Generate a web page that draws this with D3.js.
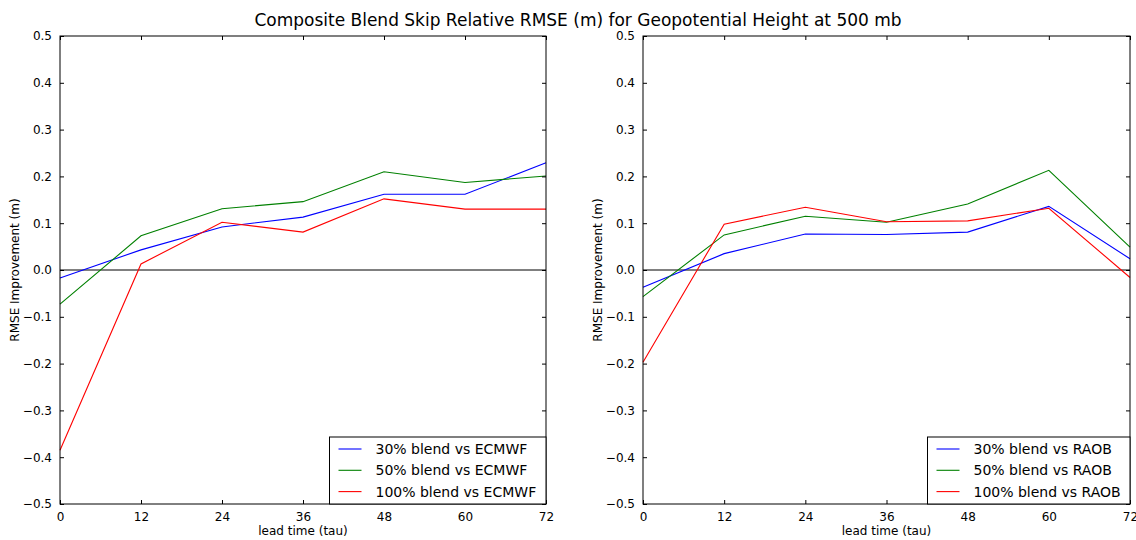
<!DOCTYPE html>
<html><head><meta charset="utf-8">
<script src="https://cdn.jsdelivr.net/npm/d3@7"></script>
<style>body{margin:0;background:#fff}svg{display:block}text{font-family:"DejaVu Sans",sans-serif;fill:#000}</style>
</head><body><svg id="c" width="1136" height="540"></svg>
<script>
const taus = [0, 12, 24, 36, 48, 60, 72];
const xTicks = [0, 12, 24, 36, 48, 60, 72];
const yTicks = [-0.5, -0.4, -0.3, -0.2, -0.1, 0.0, 0.1, 0.2, 0.3, 0.4, 0.5];
const seriesColors = ["#0000ff", "#008000", "#ff0000"];
const ecmwfNames = ["30% blend vs ECMWF", "50% blend vs ECMWF", "100% blend vs ECMWF"];
const raobNames = ["30% blend vs RAOB", "50% blend vs RAOB", "100% blend vs RAOB"];
const ecmwf30 = [-0.017, 0.043, 0.092, 0.113, 0.162, 0.162, 0.229];
const ecmwf50 = [-0.073, 0.073, 0.131, 0.146, 0.210, 0.187, 0.201];
const ecmwf100 = [-0.385, 0.013, 0.102, 0.081, 0.152, 0.130, 0.130];
const raob30 = [-0.037, 0.035, 0.077, 0.076, 0.081, 0.136, 0.024];
const raob50 = [-0.057, 0.075, 0.115, 0.102, 0.141, 0.213, 0.049];
const raob100 = [-0.197, 0.098, 0.134, 0.103, 0.105, 0.132, -0.016];

const svg = d3.select("#c");
svg.append("text").attr("x", 578).attr("y", 26).attr("text-anchor", "middle")
  .style("font-size", "17px").text("Composite Blend Skip Relative RMSE (m) for Geopotential Height at 500 mb");

function panel(x0, x1, names, data, legX) {
  const y0 = 36, y1 = 504;
  const x = d3.scaleLinear().domain([0, 72]).range([x0, x1]);
  const y = d3.scaleLinear().domain([-0.5, 0.5]).range([y1, y0]);
  const g = svg.append("g");
  g.append("line").attr("x1", x0).attr("x2", x1).attr("y1", y(0)).attr("y2", y(0))
    .attr("stroke", "#000").attr("stroke-width", 1);
  const line = d3.line().x((d, i) => x(taus[i])).y(d => y(d));
  data.forEach((s, k) => {
    g.append("path").attr("d", line(s)).attr("fill", "none")
      .attr("stroke", seriesColors[k]).attr("stroke-width", 1.1);
  });
  const ax = (gen, tx, ty) => {
    const a = g.append("g").attr("transform", `translate(${tx},${ty})`).call(gen);
    a.select(".domain").remove();
    a.selectAll("line").attr("stroke", "#000");
    a.selectAll("text").style("font-size", "12px").style("font-family", '"DejaVu Sans",sans-serif');
    return a;
  };
  ax(d3.axisBottom(x).tickValues(xTicks).tickSizeInner(-4).tickPadding(8).tickFormat(d3.format("d")), 0, y1);
  ax(d3.axisTop(x).tickValues(xTicks).tickSizeInner(-4).tickFormat(""), 0, y0);
  ax(d3.axisLeft(y).tickValues(yTicks).tickSizeInner(-4).tickPadding(8).tickFormat(d3.format(".1f")), x0, 0);
  ax(d3.axisRight(y).tickValues(yTicks).tickSizeInner(-4).tickFormat(""), x1, 0);
  g.append("rect").attr("x", x0).attr("y", y0).attr("width", x1 - x0).attr("height", y1 - y0)
    .attr("fill", "none").attr("stroke", "#000").attr("stroke-width", 1);
  g.append("text").attr("x", (x0 + x1) / 2).attr("y", 535).attr("text-anchor", "middle")
    .style("font-size", "12px").text("lead time (tau)");
  g.append("text").attr("transform", `translate(${x0 - 41},${(y0 + y1) / 2}) rotate(-90)`)
    .attr("text-anchor", "middle").style("font-size", "12px").text("RMSE Improvement (m)");
  const lg = g.append("g");
  lg.append("rect").attr("x", legX).attr("y", 437).attr("width", x1 - legX).attr("height", y1 - 437)
    .attr("fill", "#fff").attr("stroke", "#000").attr("stroke-width", 1);
  names.forEach((n, k) => {
    const yy = 449 + k * 21.3;
    lg.append("line").attr("x1", legX + 9).attr("x2", legX + 32).attr("y1", yy).attr("y2", yy)
      .attr("stroke", seriesColors[k]).attr("stroke-width", 1.1);
    lg.append("text").attr("x", legX + 46).attr("y", yy + 5).style("font-size", "14px").text(n);
  });
}
panel(60, 546, ecmwfNames, [ecmwf30, ecmwf50, ecmwf100], 329.5);
panel(643, 1130, raobNames, [raob30, raob50, raob100], 927.5);
</script></body></html>
